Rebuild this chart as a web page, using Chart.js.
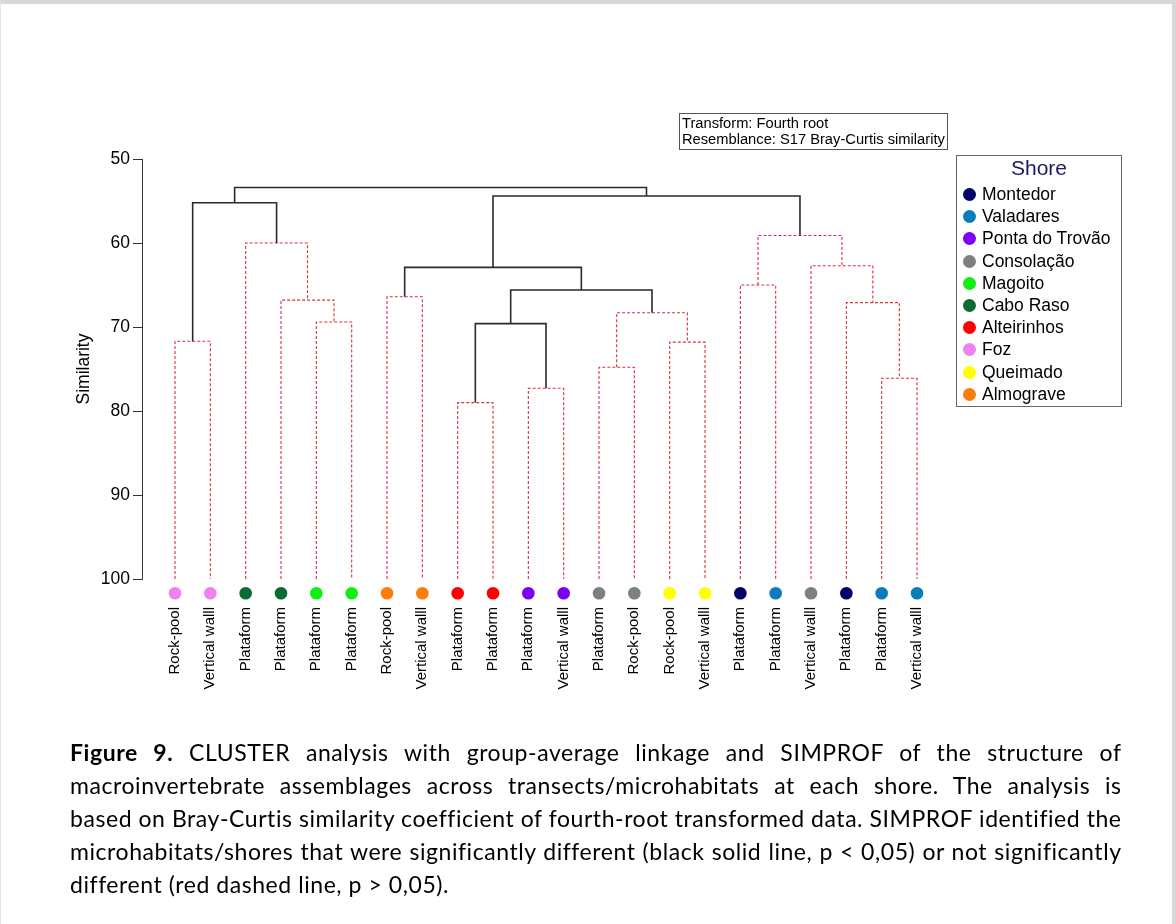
<!DOCTYPE html>
<html>
<head>
<meta charset="utf-8">
<script src="https://cdn.jsdelivr.net/npm/chart.js@4.4.1/dist/chart.umd.min.js"></script>
<style>
  html, body { margin: 0; padding: 0; background: #fff; }
  body { width: 1176px; height: 924px; position: relative; overflow: hidden; }
  #frame { position: absolute; left: 0; top: 0; width: 1176px; height: 924px; box-sizing: border-box;
           border-top: 4px solid #d8d8d8; border-right: 4px solid #d8d8d8; border-left: 1px solid #e4e4e4; pointer-events: none; }
  canvas { position: absolute; left: 0; top: 0; }
  #tbox { position: absolute; left: 679px; top: 113px; width: 269px; height: 37px; box-sizing: border-box;
          border: 1px solid #555; font-family: "Liberation Sans", Arial, sans-serif; font-size: 14.7px;
          line-height: 16px; padding: 1px 0 0 2px; color: #000; white-space: nowrap; }
  #legend { position: absolute; left: 956px; top: 155px; width: 166px; height: 252px; box-sizing: border-box;
            border: 1px solid #666; font-family: "Liberation Sans", Arial, sans-serif; }
  #legend .title { position: absolute; left: 0; width: 100%; top: 0px; text-align: center; font-size: 21px; color: #1b1a5e; }
  #legend .item { position: absolute; left: 6px; height: 22px; font-size: 17.5px; line-height: 22px; color: #000; white-space: nowrap; }
  #legend .dot { display: inline-block; width: 13px; height: 13px; border-radius: 50%; vertical-align: -1px; margin-right: 6px; }
  #caption { position: absolute; left: 70px; top: 736px; width: 1051px; font-family: Lato, "Open Sans", sans-serif;
             font-size: 23px; line-height: 33px; color: #000; }
  #caption .ln { white-space: nowrap; display: block; }
</style>
</head>
<body>
<canvas id="c" width="1176" height="924"></canvas>
<div id="tbox">Transform: Fourth root<br>Resemblance: S17 Bray-Curtis similarity</div>
<div id="legend"><div class="title">Shore</div></div>
<div id="caption">
  <span class="ln"><b>Figure 9.</b> CLUSTER analysis with group-average linkage and SIMPROF of the structure of</span>
  <span class="ln">macroinvertebrate assemblages across transects/microhabitats at each shore. The analysis is</span>
  <span class="ln ref">based on Bray-Curtis similarity coefficient of fourth-root transformed data. SIMPROF identified the</span>
  <span class="ln">microhabitats/shores that were significantly different (black solid line, p &lt; 0,05) or not significantly</span>
  <span class="ln last">different (red dashed line, p &gt; 0,05).</span>
</div>
<div id="frame"></div>
<script>
// ---- Data ----
const shoreNames  = ["Montedor", "Valadares", "Ponta do Trovão", "Consolação", "Magoito", "Cabo Raso", "Alteirinhos", "Foz", "Queimado", "Almograve"];
const shoreColors = ["#000066", "#0a7bbd", "#7b00f5", "#7f7f7f", "#11ee11", "#0a6b34", "#ff0000", "#ee82ee", "#ffff00", "#fb7d0a"];

// leaves, left to right
const leafLabels = ["Rock-pool", "Vertical walll", "Plataform", "Plataform", "Plataform", "Plataform", "Rock-pool", "Vertical walll",
                    "Plataform", "Plataform", "Plataform", "Vertical walll", "Plataform", "Rock-pool", "Rock-pool", "Vertical walll",
                    "Plataform", "Plataform", "Vertical walll", "Plataform", "Plataform", "Vertical walll"];
const leafShores = ["Foz", "Foz", "Cabo Raso", "Cabo Raso", "Magoito", "Magoito", "Almograve", "Almograve",
                    "Alteirinhos", "Alteirinhos", "Ponta do Trovão", "Ponta do Trovão", "Consolação", "Consolação", "Queimado", "Queimado",
                    "Montedor", "Valadares", "Consolação", "Montedor", "Valadares", "Valadares"];

// merges: node ids 0..21 are leaves, merge k creates node 22+k
const mergeLeft   = [0, 4, 3, 2, 22, 6, 8, 10, 28, 12, 14, 31, 30, 27, 16, 20, 19, 18, 36, 35, 26];
const mergeRight  = [1, 5, 23, 24, 25, 7, 9, 11, 29, 13, 15, 32, 33, 34, 17, 21, 37, 38, 39, 40, 41];
const mergeHeight = [71.7, 69.4, 66.8, 60.0, 55.2, 66.4, 79.0, 77.3, 69.6, 74.8, 71.8, 68.3, 65.6, 62.9, 65.0, 76.1, 67.1, 62.7, 59.1, 54.4, 53.4];
const mergeSignificant = [false, false, false, false, true, false, false, false, true, false, false, false, true, true, false, false, false, false, false, true, true];

const yTicks = [50, 60, 70, 80, 90, 100];
const leafLevel = 100;      // similarity of a sample with itself
const markerLevel = 101.7;  // row of sample symbols just below the axis

// ---- Build dendrogram segments ----
const nLeaf = leafLabels.length;
const nodeX = [], nodeY = [];
for (let i = 0; i < nLeaf; i++) { nodeX.push(i); nodeY.push(leafLevel); }
const datasets = [];
mergeHeight.forEach((h, k) => {
  const a = mergeLeft[k], b = mergeRight[k];
  nodeX.push((nodeX[a] + nodeX[b]) / 2);
  nodeY.push(h);
  const sig = mergeSignificant[k];
  datasets.push({
    type: 'line',
    data: [{x: nodeX[a], y: nodeY[a]}, {x: nodeX[a], y: h}, {x: nodeX[b], y: h}, {x: nodeX[b], y: nodeY[b]}],
    borderColor: sig ? '#2a2a2a' : '#d9303a',
    borderWidth: sig ? 1.6 : 1.1,
    borderDash: sig ? [] : [3, 2],
    pointRadius: 0, tension: 0, fill: false, order: sig ? 1 : 2, clip: false
  });
});
const markerIndex = datasets.length;
datasets.push({
  type: 'scatter',
  data: leafLabels.map((_, i) => ({x: i, y: markerLevel})),
  pointRadius: 6.3, pointHoverRadius: 6.3,
  pointBackgroundColor: leafShores.map(s => shoreColors[shoreNames.indexOf(s)]),
  pointBorderWidth: 0, borderWidth: 0, clip: false, order: 0
});

// Symbols sit below the plot frame: draw the library's own point elements without the chart-area cull
const markerPlugin = {
  id: 'markers',
  afterDatasetsDraw(chart) {
    const meta = chart.getDatasetMeta(markerIndex);
    const wide = { left: -1e5, top: -1e5, right: 1e5, bottom: 1e5 };
    meta.data.forEach(p => p.draw(chart.ctx, wide));
  }
};

// ---- Chart ----
const fontFam = '"Liberation Sans", Arial, sans-serif';
new Chart(document.getElementById('c'), {
  type: 'line',
  data: { datasets },
  plugins: [markerPlugin],
  options: {
    responsive: false, animation: false, events: [],
    layout: { padding: { left: 60, top: 159, right: 224, bottom: 215 } },
    plugins: { legend: { display: false }, tooltip: { enabled: false } },
    scales: {
      x: {
        type: 'linear', min: -0.934, max: 21.99,
        grid: { display: false, drawTicks: false }, border: { display: false },
        afterBuildTicks: s => { s.ticks = leafLabels.map((_, i) => ({ value: i })); },
        afterFit: s => { s.height = 130; },
        ticks: { autoSkip: false, minRotation: 90, maxRotation: 90, padding: 28, color: '#000',
                 font: { family: fontFam, size: 15 }, callback: v => leafLabels[v] }
      },
      y: {
        type: 'linear', min: 50, max: 100, reverse: true,
        afterBuildTicks: s => { s.ticks = yTicks.map(v => ({ value: v })); },
        afterFit: s => { s.width = 82; },
        grid: { drawOnChartArea: false, tickLength: 9, color: '#333', lineWidth: 1 },
        border: { display: true, color: '#333', width: 1 },
        ticks: { padding: 3, color: '#000', font: { family: fontFam, size: 17.5 } },
        title: { display: true, text: 'Similarity', color: '#000', padding: { top: 14, bottom: 0 },
                 font: { family: fontFam, size: 17.5 } }
      }
    }
  }
});

// ---- Legend ----
const legendEl = document.getElementById('legend');
shoreNames.forEach((name, i) => {
  const it = document.createElement('div');
  it.className = 'item';
  it.style.top = (27 + i * 22.2) + 'px';
  it.innerHTML = '<span class="dot" style="background:' + shoreColors[i] + '"></span>' + name;
  legendEl.appendChild(it);
});

// ---- Justify caption lines ----
const target = 1051;
const lines = Array.from(document.querySelectorAll('#caption .ln'));
const refLine = document.querySelector('#caption .ref');
refLine.style.display = 'inline-block';
const refW = refLine.getBoundingClientRect().width;
const refChars = refLine.textContent.trim().length;
const ls = Math.max(0, (target - refW) / refChars);
refLine.style.display = 'block';
lines.forEach(el => { el.style.letterSpacing = ls + 'px'; });
lines.forEach(el => {
  if (el.classList.contains('last')) return;
  el.style.display = 'inline-block';
  const w = el.getBoundingClientRect().width - ls;
  const spaces = (el.textContent.trim().match(/ /g) || []).length;
  el.style.wordSpacing = ((target - w) / spaces) + 'px';
  el.style.display = 'block';
});
</script>
</body>
</html>
